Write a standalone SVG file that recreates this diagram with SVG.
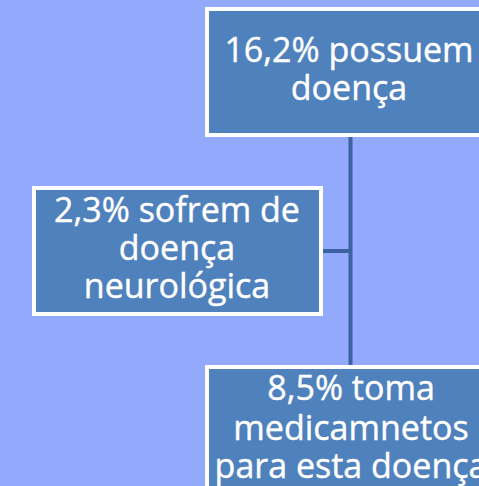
<svg xmlns="http://www.w3.org/2000/svg" width="479" height="486" viewBox="0 0 479 486">
<style>
.box{fill:#4f81bd;stroke:#ffffff;stroke-width:4}
.lbl{font-family:"Open Sans","Noto Sans",sans-serif;font-size:34px;fill:#ffffff;text-anchor:middle;stroke:#ffffff;stroke-width:0.4}
.conn{stroke:#3d62a0;stroke-width:4;fill:none}
</style>
<rect width="479" height="486" fill="#93a9fb"/>
<g id="connectors">
<path class="conn" d="M350.5,137 V366"/>
<path class="conn" d="M323,251 H350.5"/>
</g>
<g id="node-top">
<rect class="box" x="207" y="9" width="284" height="126"/>
<text class="lbl" x="349" y="62">16,2% possuem</text>
<text class="lbl" x="349" y="100">doença</text>
</g>
<g id="node-left">
<rect class="box" x="34" y="188" width="287" height="126"/>
<text class="lbl" x="177" y="222">2,3% sofrem de</text>
<text class="lbl" x="177" y="260">doença</text>
<text class="lbl" x="177" y="298">neurológica</text>
</g>
<g id="node-bottom">
<rect class="box" x="207" y="367" width="290" height="130"/>
<text class="lbl" x="351" y="400">8,5% toma</text>
<text class="lbl" x="351" y="440">medicamnetos</text>
<text class="lbl" x="351" y="478">para esta doença</text>
</g>
</svg>
